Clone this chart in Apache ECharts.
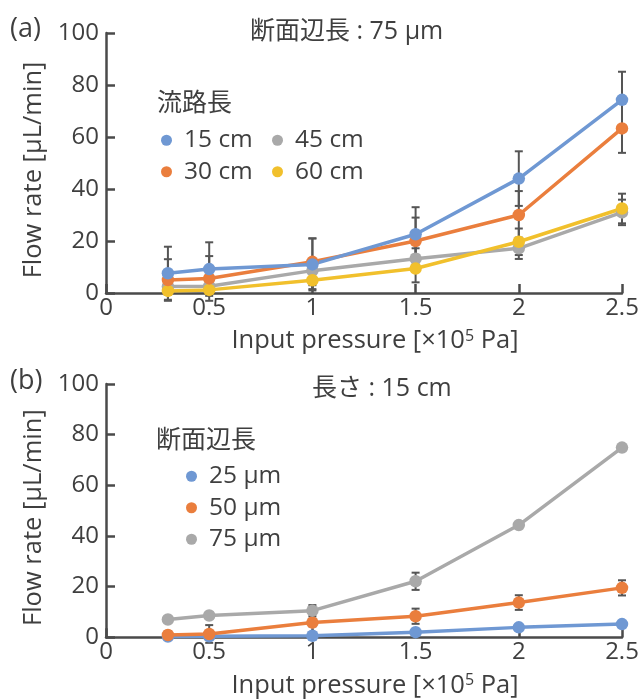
<!DOCTYPE html>
<html><head><meta charset="utf-8">
<script src="https://cdn.jsdelivr.net/npm/echarts@6/dist/echarts.min.js"></script>
<style>html,body{margin:0;padding:0;background:#fff}#c{width:644px;height:699px}</style>
</head><body><div id="c"></div>
<script>
// ---- data ----
const xVals = [0.3, 0.5, 1, 1.5, 2, 2.5];
const xTicks = [0, 0.5, 1, 1.5, 2, 2.5];
const yTicks = [0, 20, 40, 60, 80, 100];

// (a) cross-section 75 µm, channel length series
const lenNames = ['15 cm', '30 cm', '45 cm', '60 cm'];
const cm15 = [7.6, 9.2, 11.0, 22.6, 44.0, 74.3];
const cm15Err = [10.2, 10.3, 10.0, 10.4, 10.5, 10.8];
const cm30 = [5.0, 5.6, 12.0, 20.0, 30.0, 63.3];
const cm30Err = [8.0, 8.6, 9.0, 9.0, 9.2, 9.4];
const cm45 = [2.5, 2.6, 8.6, 13.2, 17.2, 31.0];
const cm45Err = [2.5, 2.5, 3.5, 4.0, 4.1, 4.9];
const cm60 = [0.8, 1.2, 4.9, 9.4, 19.7, 32.5];
const cm60Err = [1.5, 1.5, 3.4, 5.3, 5.1, 5.7];

// (b) length 15 cm, cross-section series
const sizeNames = ['25 µm', '50 µm', '75 µm'];
const um25 = [0.3, 0.4, 0.6, 2.0, 3.9, 5.2];
const um25Err = [0.3, 0.3, 0.3, 0.5, 0.6, 0.6];
const um50 = [0.9, 1.3, 5.8, 8.3, 13.7, 19.5];
const um50Err = [1.5, 3.5, 1.5, 3.0, 2.9, 3.0];
const um75 = [7.0, 8.6, 10.5, 22.1, 44.3, 74.9];
const um75Err = [1.0, 1.0, 2.2, 3.4, 1.0, 1.0];

const colors = { blue: '#6f98d3', orange: '#ea7e3d', gray: '#a9a9a9', yellow: '#f1c02c' };
const FONT = '"Open Sans", "Noto Sans CJK JP", sans-serif';
const TXT = '#3f3f3f';
const AX = '#4a4a4a';

function pts(v) { return xVals.map((x, i) => [x, v[i]]); }
function errPts(v, e) { return xVals.map((x, i) => [x, v[i] - e[i], v[i] + e[i]]); }

function lineSeries(name, v, color, gi) {
  return { type: 'line', name, data: pts(v), xAxisIndex: gi, yAxisIndex: gi,
    symbol: 'circle', symbolSize: 12.5, z: 5,
    itemStyle: { color }, lineStyle: { color, width: 3.5 } };
}
function errSeries(v, e, gi) {
  return { type: 'custom', xAxisIndex: gi, yAxisIndex: gi, z: 3, silent: true,
    data: errPts(v, e), encode: { x: 0, y: [1, 2] },
    renderItem: function (params, api) {
      const lo = api.coord([api.value(0), api.value(1)]);
      const hi = api.coord([api.value(0), api.value(2)]);
      const w = 4;
      const st = { stroke: '#555', lineWidth: 2 };
      return { type: 'group', children: [
        { type: 'line', shape: { x1: lo[0], y1: lo[1], x2: hi[0], y2: hi[1] }, style: st },
        { type: 'line', shape: { x1: lo[0] - w, y1: lo[1], x2: lo[0] + w, y2: lo[1] }, style: st },
        { type: 'line', shape: { x1: hi[0] - w, y1: hi[1], x2: hi[0] + w, y2: hi[1] }, style: st }
      ] };
    } };
}

function xAxis(gi) {
  return { type: 'value', gridIndex: gi, min: xTicks[0], max: xTicks[xTicks.length - 1], interval: 0.5,
    splitLine: { show: false },
    axisLine: { show: true, onZero: false, lineStyle: { color: AX, width: 2.5 } },
    axisTick: { show: true, inside: true, length: 9, lineStyle: { color: AX, width: 2.5 } },
    axisLabel: { color: TXT, fontSize: 24, fontFamily: FONT, margin: 3 },
    name: '{a|Input pressure [×10}{s|5}{a| Pa]}', nameLocation: 'middle', nameGap: 35,
    nameTextStyle: { padding: [0, 0, 0, 22], rich: {
      a: { fontSize: 25.5, color: TXT, fontFamily: FONT },
      s: { fontSize: 16, color: TXT, fontFamily: FONT, verticalAlign: 'top', padding: [0, 0, 10, 0] } } } };
}
function yAxis(gi) {
  return { type: 'value', gridIndex: gi, min: yTicks[0], max: yTicks[yTicks.length - 1], interval: 20,
    splitLine: { show: false },
    axisLine: { show: true, lineStyle: { color: AX, width: 2.5 } },
    axisTick: { show: true, inside: true, length: 9, lineStyle: { color: AX, width: 2.5 } },
    axisLabel: { color: TXT, fontSize: 24, fontFamily: FONT, margin: 7 },
    name: 'Flow rate [µL/min]', nameLocation: 'middle', nameGap: 53, nameRotate: 90,
    nameTextStyle: { fontSize: 25.5, color: TXT, fontFamily: FONT, padding: [0, 14, 0, 0] } };
}

function legend(names, left, top) {
  return { orient: 'vertical', left, top, data: names, icon: 'circle', itemWidth: 11, itemHeight: 11,
    itemGap: 7, textStyle: { fontSize: 24.5, color: TXT, fontFamily: FONT, padding: [0, 0, 0, 7] },
    selectedMode: false };
}
function label(text, left, top, size) {
  return { text, left, top, textStyle: { fontSize: size, color: TXT, fontFamily: FONT, fontWeight: 'normal' } };
}

const chart = echarts.init(document.getElementById('c'));
chart.setOption({
  backgroundColor: '#fff',
  animation: false,
  title: [
    label('(a)', 5, 11, 27), label('断面辺長 : 75 µm', 245, 14, 25), label('流路長', 152, 86, 25),
    label('(b)', 5, 363, 27), label('長さ : 15 cm', 307, 371, 25), label('断面辺長', 151, 423, 25)
  ],
  legend: [
    legend([lenNames[0], lenNames[1]], 156, 123),
    legend([lenNames[2], lenNames[3]], 267, 123),
    legend(sizeNames, 181, 459)
  ],
  grid: [
    { left: 106, right: 22, top: 33, height: 260 },
    { left: 106, right: 22, top: 384, height: 256 }
  ],
  xAxis: [xAxis(0), xAxis(1)],
  yAxis: [yAxis(0), yAxis(1)],
  series: [
    errSeries(cm15, cm15Err, 0), errSeries(cm30, cm30Err, 0), errSeries(cm45, cm45Err, 0), errSeries(cm60, cm60Err, 0),
    lineSeries(lenNames[2], cm45, colors.gray, 0),
    lineSeries(lenNames[3], cm60, colors.yellow, 0),
    lineSeries(lenNames[1], cm30, colors.orange, 0),
    lineSeries(lenNames[0], cm15, colors.blue, 0),
    errSeries(um25, um25Err, 1), errSeries(um50, um50Err, 1), errSeries(um75, um75Err, 1),
    lineSeries(sizeNames[0], um25, colors.blue, 1),
    lineSeries(sizeNames[1], um50, colors.orange, 1),
    lineSeries(sizeNames[2], um75, colors.gray, 1)
  ]
});
</script></body></html>
